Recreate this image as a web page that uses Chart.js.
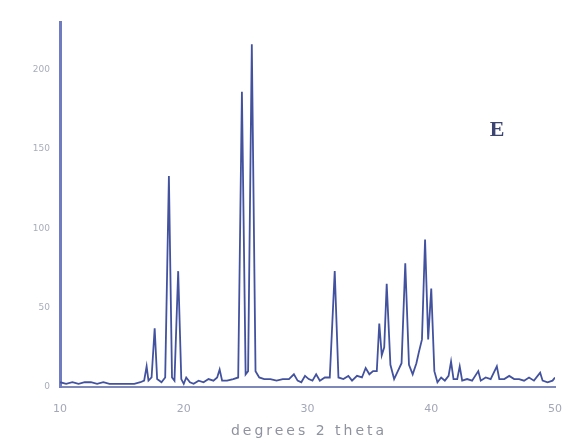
<!DOCTYPE html>
<html>
<head>
<meta charset="utf-8">
<script src="https://cdn.jsdelivr.net/npm/chart.js@4/dist/chart.umd.min.js"></script>
<style>
  html, body { margin: 0; padding: 0; background: #fff; }
  #wrap { width: 573px; height: 443px; position: relative; }
</style>
</head>
<body>
<div id="wrap"><canvas id="xrd"></canvas></div>
<script>
// diffraction pattern (degrees 2 theta / counts)
const twoTheta = [
  10.0, 10.5, 11.0, 11.5, 12.0, 12.5, 13.0, 13.5, 14.0, 14.5, 15.0, 15.5, 16.0, 16.5, 16.8,
  17.0, 17.15, 17.4, 17.65, 17.85, 18.2, 18.5, 18.8, 19.05, 19.25, 19.55, 19.8, 20.0, 20.2,
  20.5, 20.8, 21.2, 21.6, 22.0, 22.4, 22.7, 22.9, 23.1, 23.5, 24.0, 24.4, 24.7, 25.0, 25.2,
  25.5, 25.8, 26.1, 26.5, 27.0, 27.5, 28.0, 28.5, 28.9, 29.2, 29.5, 29.8, 30.1, 30.4, 30.7,
  31.0, 31.4, 31.8, 32.2, 32.5, 32.9, 33.3, 33.6, 34.0, 34.4, 34.7, 35.0, 35.3, 35.6, 35.8,
  36.0, 36.2, 36.4, 36.7, 37.0, 37.3, 37.6, 37.9, 38.2, 38.5, 38.8, 39.0, 39.25, 39.5, 39.75,
  40.0, 40.25, 40.5, 40.8, 41.1, 41.4, 41.6, 41.8, 42.1, 42.3, 42.5, 42.9, 43.3, 43.8, 44.0,
  44.4, 44.8, 45.3, 45.5, 45.9, 46.3, 46.7, 47.1, 47.5, 47.9, 48.3, 48.8, 49.0, 49.4, 49.8, 50.0
];
const counts = [
  3, 2, 3, 2, 3, 3, 2, 3, 2, 2, 2, 2, 2, 3, 4,
  13, 4, 6, 37, 5, 3, 6, 133, 6, 4, 73, 5, 2, 6,
  3, 2, 4, 3, 5, 4, 6, 11, 4, 4, 5, 6, 186, 8, 10,
  216, 10, 6, 5, 5, 4, 5, 5, 8, 4, 3, 7, 5, 4, 8,
  4, 6, 6, 73, 6, 5, 7, 4, 7, 6, 12, 8, 10, 10, 40,
  20, 25, 65, 14, 5, 10, 15, 78, 14, 8, 15, 22, 30, 93, 30,
  62, 10, 3, 6, 4, 7, 16, 5, 5, 13, 4, 5, 4, 10, 4,
  6, 5, 13, 5, 5, 7, 5, 5, 4, 6, 4, 9, 4, 3, 4, 6
];
const xTicks = [10, 20, 30, 40, 50];
const yTicks = [0, 50, 100, 150, 200];
const xTitle = "degrees 2 theta";

const points = twoTheta.map((t, i) => ({ x: t, y: counts[i] }));

// panel letter and the widely spaced axis title
const extraText = {
  id: "extraText",
  afterDraw(chart) {
    const ctx = chart.ctx;
    ctx.save();
    ctx.font = "bold 22px 'Liberation Serif', serif";
    ctx.fillStyle = "#3c4470";
    ctx.textAlign = "center";
    ctx.textBaseline = "middle";
    ctx.fillText("E", 497, 130);

    ctx.font = "14px 'DejaVu Sans', sans-serif";
    ctx.fillStyle = "#8f93a0";
    ctx.letterSpacing = "3px";
    ctx.fillText(xTitle, 309, 431);
    ctx.restore();
  }
};

new Chart(document.getElementById("xrd").getContext("2d"), {
  type: "line",
  data: {
    datasets: [{
      data: points,
      borderColor: "#43529e",
      borderWidth: 1.8,
      pointRadius: 0,
      tension: 0,
      fill: false
    }]
  },
  options: {
    responsive: true,
    maintainAspectRatio: false,
    animation: false,
    layout: { padding: { top: 22, right: 16, left: 0, bottom: 0 } },
    plugins: { legend: { display: false }, tooltip: { enabled: false } },
    scales: {
      x: {
        type: "linear",
        min: 10,
        max: 50,
        afterBuildTicks: s => { s.ticks = xTicks.map(v => ({ value: v })); },
        afterFit: s => { s.height = 56; },
        grid: { display: false, drawTicks: true, tickLength: 5, color: "#7d88b8" },
        border: { color: "#7d88b8", width: 2 },
        ticks: { color: "#a3a8b8", font: { size: 11, family: "DejaVu Sans" }, padding: 11 }
      },
      y: {
        min: 0,
        max: 230,
        afterBuildTicks: s => { s.ticks = yTicks.map(v => ({ value: v })); },
        afterFit: s => { s.width = 60; },
        grid: { display: false, drawTicks: true, tickLength: 6, color: "#8390c4" },
        border: { color: "#6f7cc0", width: 3 },
        ticks: { color: "#a8adbb", font: { size: 9, family: "DejaVu Sans" }, padding: 4 }
      }
    }
  },
  plugins: [extraText]
});
</script>
</body>
</html>
